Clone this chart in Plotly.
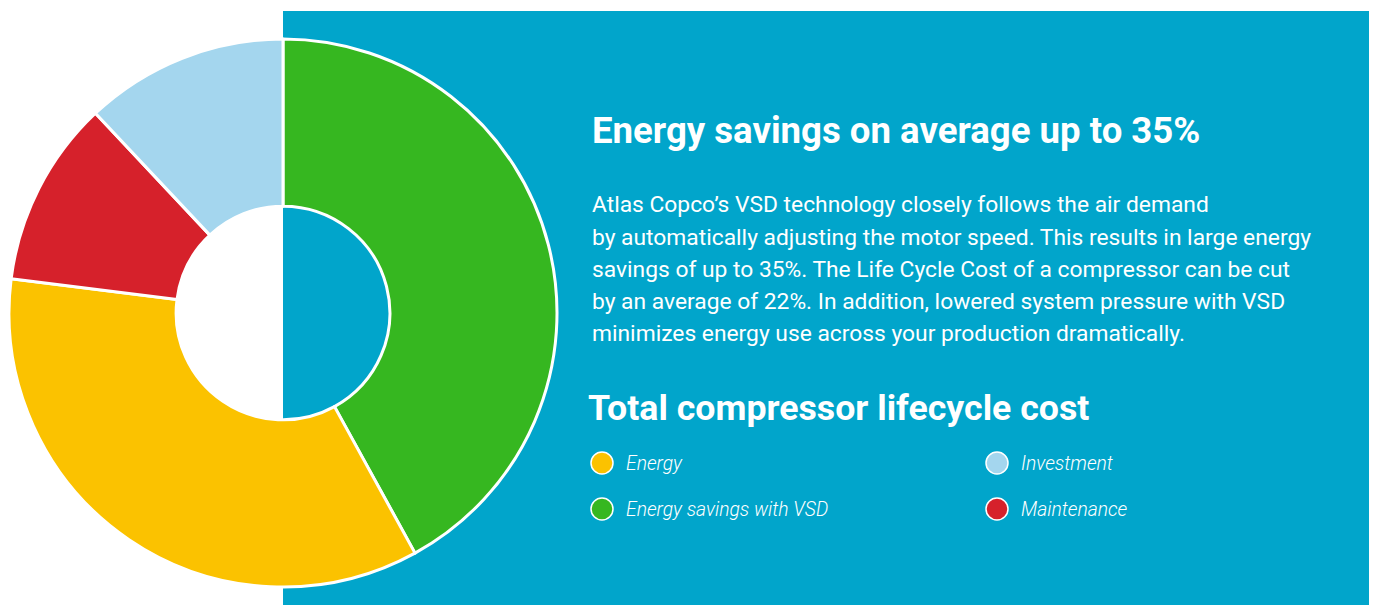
import plotly.graph_objects as go

W, H = 1377, 605
OFF = 8  # page body margin in the browser

# Data
categories = ["Energy savings with VSD", "Energy", "Maintenance", "Investment"]
values = [42, 35, 11, 12]
colors = ["#36B720", "#FBC200", "#D6212B", "#A4D6EE"]

legend_order = ["Energy", "Investment", "Energy savings with VSD", "Maintenance"]

title1 = "Energy savings on average up to 35%"
body_lines = [
    "Atlas Copco’s VSD technology closely follows the air demand",
    "by automatically adjusting the motor speed. This results in large energy",
    "savings of up to 35%. The Life Cycle Cost of a compressor can be cut",
    "by an average of 22%. In addition, lowered system pressure with VSD",
    "minimizes energy use across your production dramatically.",
]
title2 = "Total compressor lifecycle cost"

BLUE = "#01A5CB"

def px(x):
    return (x - OFF) / W

def py(y):
    return 1 - (y - OFF) / H

cx, cy, r = 283, 313, 274

fig = go.Figure()
fig.add_trace(go.Pie(
    labels=categories,
    values=values,
    marker=dict(colors=colors, line=dict(color="white", width=3)),
    hole=0.39,
    sort=False,
    direction="clockwise",
    rotation=0,
    textinfo="none",
    hoverinfo="label+percent",
    showlegend=False,
    domain=dict(x=[px(cx - r), px(cx + r)], y=[py(cy + r), py(cy - r)]),
))

shapes = [dict(type="rect", xref="paper", yref="paper",
               x0=px(283), x1=px(1370), y0=0, y1=py(11),
               fillcolor=BLUE, line=dict(width=0), layer="below")]

annotations = []
FONT = "Roboto"
annotations.append(dict(text="<b>" + title1 + "</b>", x=px(590), y=py(131), xref="paper", yref="paper",
                        xanchor="left", yanchor="middle", showarrow=False,
                        font=dict(family=FONT, size=36.6, color="white")))
for i, line in enumerate(body_lines):
    annotations.append(dict(text=line, x=px(590), y=py(205 + 32 * i), xref="paper", yref="paper",
                            xanchor="left", yanchor="middle", showarrow=False,
                            font=dict(family=FONT, size=22.8, color="white")))
annotations.append(dict(text="<b>" + title2 + "</b>", x=px(586), y=py(408), xref="paper", yref="paper",
                        xanchor="left", yanchor="middle", showarrow=False,
                        font=dict(family=FONT, size=35.7, color="white")))

leg_x = [602, 997]
leg_y = [463, 509]
color_of = dict(zip(categories, colors))
for k, name in enumerate(legend_order):
    col, row = k % 2, k // 2
    x0, y0 = leg_x[col], leg_y[row]
    shapes.append(dict(type="circle", xref="paper", yref="paper",
                       x0=px(x0 - 11), x1=px(x0 + 11), y0=py(y0 + 11), y1=py(y0 - 11),
                       fillcolor=color_of[name], line=dict(color="white", width=1.5)))
    annotations.append(dict(text="<i>" + name + "</i>", x=px(x0 + 22), y=py(y0), xref="paper", yref="paper",
                            xanchor="left", yanchor="middle", showarrow=False,
                            font=dict(family=FONT, size=19.3, color="white", weight=300)))

fig.update_layout(
    width=W, height=H,
    margin=dict(l=0, r=0, t=0, b=0),
    paper_bgcolor="white", plot_bgcolor="white",
    shapes=shapes, annotations=annotations,
)

fig.write_html("out.html")
